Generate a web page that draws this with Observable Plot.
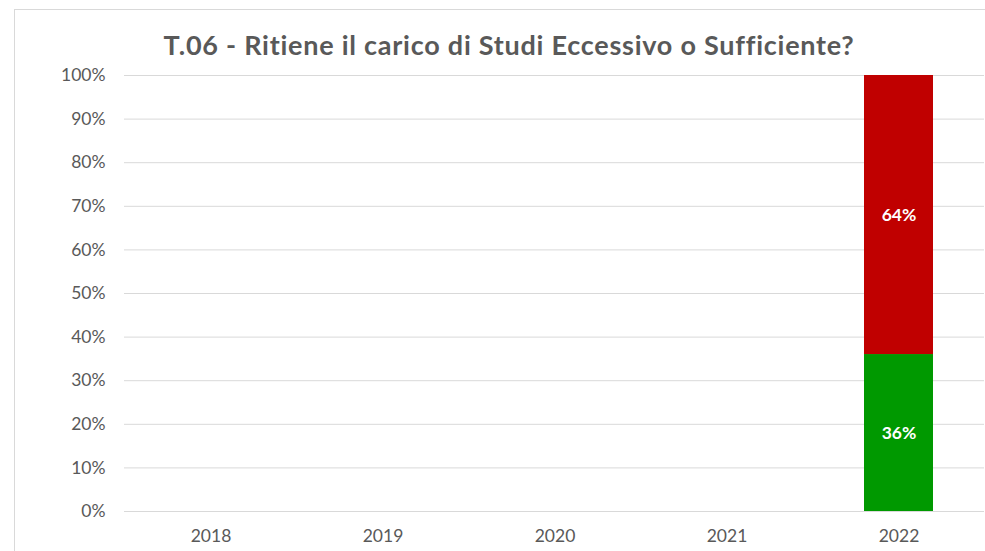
<!DOCTYPE html>
<html>
<head>
<meta charset="utf-8">
<script src="https://cdn.jsdelivr.net/npm/d3@7"></script>
<script src="https://cdn.jsdelivr.net/npm/@observablehq/plot@0.6"></script>
<style>
  html, body { margin: 0; padding: 0; background: #fff; overflow: hidden; }
  #wrap { position: relative; width: 985px; height: 551px; overflow: hidden; font-family: Lato, "Open Sans", sans-serif; }
  #frame { position: absolute; left: 14px; top: 9px; width: 1100px; height: 700px; border: 1px solid #d9d9d9; box-sizing: border-box; }
  #title { position: absolute; left: 33px; width: 952px; top: 28px; text-align: center; font-weight: bold; font-size: 27px; letter-spacing: 0.75px; color: #595959; line-height: 34px; white-space: nowrap; }
  #chart { position: absolute; left: 0; top: 0; }
</style>
</head>
<body>
<div id="wrap">
  <div id="frame"></div>
  <div id="chart"></div>
  <div id="title">T.06 - Ritiene il carico di Studi Eccessivo o Sufficiente?</div>
</div>
<script>
const years = ["2018", "2019", "2020", "2021", "2022"];
const seriesNames = ["Sufficiente", "Eccessivo"];
const sufficiente = [null, null, null, null, 36];
const eccessivo = [null, null, null, null, 64];
const yTicks = [0, 10, 20, 30, 40, 50, 60, 70, 80, 90, 100];
const colors = ["#009900", "#C00000"];

const rows = [];
years.forEach((yr, i) => {
  if (sufficiente[i] != null) rows.push({year: yr, series: seriesNames[0], value: sufficiente[i]});
  if (eccessivo[i] != null) rows.push({year: yr, series: seriesNames[1], value: eccessivo[i]});
});

const plot = Plot.plot({
  width: 985,
  height: 551,
  marginLeft: 124,
  marginRight: 1,
  marginTop: 75,
  marginBottom: 40,
  style: { fontFamily: "Lato, 'Open Sans', sans-serif", fontSize: "17px", color: "#595959", background: "transparent" },
  x: { domain: years, paddingInner: 0.6, paddingOuter: 0.3, label: null },
  y: { domain: [0, 100], label: null },
  color: { domain: seriesNames, range: colors },
  marks: [
    Plot.ruleY(yTicks, { stroke: "#d9d9d9", strokeWidth: 1 }),
    Plot.barY(rows, { x: "year", y: "value", fill: "series" }),
    Plot.text(rows, Plot.stackY({ x: "year", y: "value", text: d => d.value + "%", fill: "white", fontWeight: "bold", fontSize: 17.5 })),
    Plot.axisY({ ticks: yTicks, tickFormat: d => d + "%", tickSize: 0, tickPadding: 19, label: null, fontSize: 17.5 }),
    Plot.axisX({ tickSize: 0, tickPadding: 18, label: null, fontSize: 17.5 })
  ]
});
document.getElementById("chart").appendChild(plot);
</script>
</body>
</html>
